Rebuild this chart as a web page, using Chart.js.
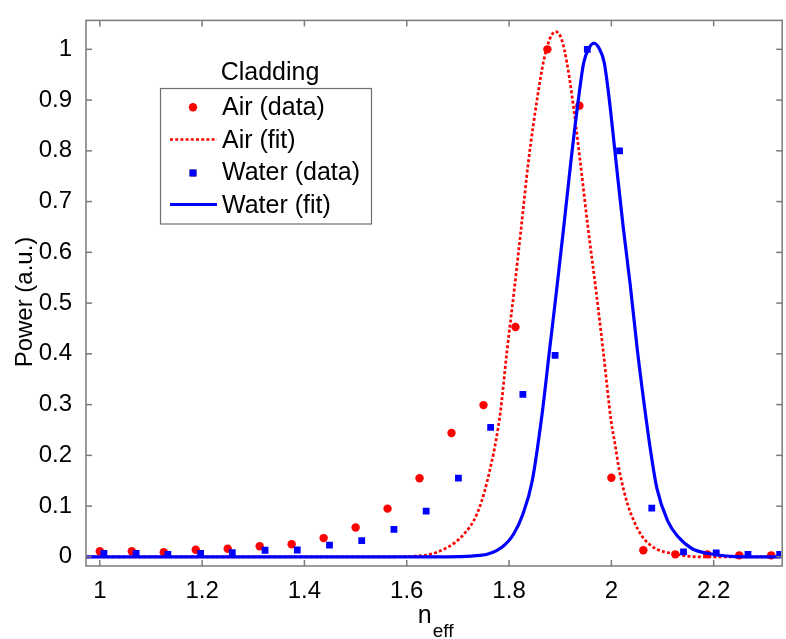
<!DOCTYPE html>
<html><head><meta charset="utf-8">
<script src="https://cdn.jsdelivr.net/npm/chart.js@4.4.1/dist/chart.umd.min.js"></script>
<style>html,body{margin:0;padding:0;background:#fff;overflow:hidden}#wrap{width:786px;height:639px}</style>
</head><body><div id="wrap"><canvas id="c" width="786" height="639"></canvas></div>
<script>
// ---- data ----
const airDataX = [1, 1.0625, 1.125, 1.1875, 1.25, 1.3125, 1.375, 1.4375, 1.5, 1.5625, 1.625, 1.6875, 1.75, 1.8125, 1.875, 1.9375, 2, 2.0625, 2.125, 2.1875, 2.25, 2.3125];
const airDataY = [0.011, 0.011, 0.009, 0.014, 0.016, 0.021, 0.025, 0.037, 0.058, 0.095, 0.155, 0.244, 0.299, 0.453, 1.0, 0.889, 0.156, 0.013, 0.005, 0.005, 0.003, 0.003];
const waterDataX = [1.008, 1.071, 1.133, 1.197, 1.259, 1.323, 1.386, 1.449, 1.512, 1.575, 1.638, 1.701, 1.764, 1.827, 1.890, 1.953, 2.016, 2.079, 2.141, 2.205, 2.267, 2.329];
const waterDataY = [0.007, 0.007, 0.005, 0.007, 0.0085, 0.013, 0.0135, 0.023, 0.032, 0.054, 0.090, 0.155, 0.255, 0.320, 0.397, 1.0, 0.80, 0.096, 0.010, 0.008, 0.005, 0.005];
const airFitX = [0.973, 1.55, 1.634, 1.680, 1.712, 1.737, 1.757, 1.782, 1.796, 1.810, 1.824, 1.838, 1.856, 1.867, 1.879, 1.891, 1.903, 1.913, 1.923, 1.939, 1.954, 1.970, 1.984, 2.000, 2.0065, 2.016, 2.032, 2.044, 2.061, 2.087, 2.12, 2.17, 2.332];
const airFitY = [0, 0, 0.003, 0.019, 0.045, 0.084, 0.148, 0.277, 0.406, 0.525, 0.651, 0.780, 0.909, 0.974, 1.019, 1.035, 1.019, 0.974, 0.909, 0.780, 0.651, 0.525, 0.406, 0.264, 0.226, 0.168, 0.103, 0.071, 0.039, 0.016, 0.0066, 0, 0];
const waterFitX = [0.973, 1.65, 1.744, 1.786, 1.809, 1.827, 1.845, 1.864, 1.879, 1.894, 1.907, 1.921, 1.9365, 1.946, 1.956, 1.966, 1.976, 1.986, 1.995, 2.009, 2.023, 2.037, 2.051, 2.069, 2.078, 2.089, 2.110, 2.131, 2.158, 2.19, 2.26, 2.332];
const waterFitY = [0, 0, 0.003, 0.019, 0.045, 0.084, 0.148, 0.277, 0.406, 0.535, 0.651, 0.780, 0.909, 0.974, 1.002, 1.012, 1.002, 0.974, 0.909, 0.780, 0.651, 0.535, 0.406, 0.264, 0.200, 0.135, 0.071, 0.039, 0.016, 0.0066, 0, 0];
const xTickValues = [1, 1.2, 1.4, 1.6, 1.8, 2, 2.2];
const xTickLabels = ['1', '1.2', '1.4', '1.6', '1.8', '2', '2.2'];
const yTickValues = [0, 0.1, 0.2, 0.3, 0.4, 0.5, 0.6, 0.7, 0.8, 0.9, 1];
const yTickLabels = ['0', '0.1', '0.2', '0.3', '0.4', '0.5', '0.6', '0.7', '0.8', '0.9', '1'];
const seriesNames = ['Air (data)', 'Air (fit)', 'Water (data)', 'Water (fit)'];
const legendTitle = 'Cladding';
const yTitle = 'Power (a.u.)';
const xTitleMain = 'n';
const xTitleSub = 'eff';

const FONT = '"Liberation Sans", Arial, Helvetica, sans-serif';
const RED = '#ff0000', BLUE = '#0000ff', AXIS = '#7a7a7a', TEXT = '#000000';
const pts = (xs, ys) => xs.map((v, i) => ({x: v, y: ys[i]}));

const frame = {
  id: 'frame',
  afterDraw(chart) {
    const {ctx, chartArea: a, scales: {x, y}} = chart;
    const L = a.left, R = a.right + 1, T = a.top, B = a.bottom;
    ctx.save();
    ctx.strokeStyle = AXIS; ctx.lineWidth = 1.5;
    ctx.strokeRect(L, T, R - L, B - T);
    const seg = (x1, y1, x2, y2) => { ctx.beginPath(); ctx.moveTo(x1, y1); ctx.lineTo(x2, y2); ctx.stroke(); };
    xTickValues.forEach(v => { const p = x.getPixelForValue(v); seg(p, B, p, B - 6); seg(p, T, p, T + 6); });
    yTickValues.forEach(v => { const p = y.getPixelForValue(v); seg(L, p, L + 6, p); seg(R, p, R - 6, p); });
    ctx.fillStyle = TEXT;
    // y-axis title
    ctx.save();
    ctx.translate(25, 302); ctx.rotate(-Math.PI / 2);
    ctx.font = '24px ' + FONT; ctx.textAlign = 'center'; ctx.textBaseline = 'middle';
    ctx.fillText(yTitle, 0, 0);
    ctx.restore();
    // x-axis title with subscript
    ctx.textBaseline = 'alphabetic';
    ctx.font = '25px ' + FONT;
    const wn = ctx.measureText(xTitleMain).width;
    ctx.font = '19px ' + FONT;
    const ws = ctx.measureText(xTitleSub).width;
    const cx = (L + R) / 2 + 1;
    const x0 = cx - (wn + ws) / 2;
    ctx.font = '25px ' + FONT; ctx.textAlign = 'left';
    ctx.fillText(xTitleMain, x0, 623);
    ctx.font = '19px ' + FONT;
    ctx.fillText(xTitleSub, x0 + wn + 1, 637);
    // legend
    ctx.fillStyle = TEXT; ctx.font = '25px ' + FONT; ctx.textAlign = 'center';
    ctx.fillText(legendTitle, 270, 80);
    ctx.fillStyle = '#ffffff';
    ctx.fillRect(160.5, 88.5, 211, 135.5);
    ctx.strokeStyle = '#6e6e6e'; ctx.lineWidth = 1.2;
    ctx.strokeRect(160.5, 88.5, 211, 135.5);
    const rowY = [107.3, 139.5, 173, 204.5];
    const baseY = [115, 147.5, 180, 212.5];
    chart.data.datasets.forEach((ds, i) => {
      const yy = rowY[i];
      if (ds.showLine) {
        ctx.save();
        ctx.strokeStyle = ds.borderColor; ctx.lineWidth = ds.borderWidth;
        ctx.setLineDash(ds.borderDash || []);
        seg(170, yy, 217, yy);
        ctx.restore();
      } else {
        Chart.helpers.drawPoint(ctx, {pointStyle: ds.pointStyle, radius: ds.pointRadius, borderWidth: 0, rotation: 0}, 193, yy);
        ctx.fillStyle = ds.backgroundColor; ctx.fill();
      }
      ctx.fillStyle = TEXT; ctx.textAlign = 'left'; ctx.font = '25px ' + FONT;
      ctx.fillText(ds.label, 222, baseY[i]);
    });
    ctx.restore();
  }
};

new Chart(document.getElementById('c'), {
  type: 'scatter',
  data: {
    datasets: [
      {label: seriesNames[0], data: pts(airDataX, airDataY), pointStyle: 'circle', pointRadius: 4.2, pointHoverRadius: 4.2,
       backgroundColor: RED, borderColor: RED, pointBorderWidth: 0, order: 4},
      {label: seriesNames[1], data: pts(airFitX, airFitY), showLine: true, pointRadius: 0, pointHoverRadius: 0,
       borderColor: RED, backgroundColor: RED, borderWidth: 2.7, borderDash: [3, 2.2], cubicInterpolationMode: 'monotone', tension: 0.4, order: 3},
      {label: seriesNames[2], data: pts(waterDataX, waterDataY), pointStyle: 'rect', pointRadius: 4.8, pointHoverRadius: 4.8,
       backgroundColor: BLUE, borderColor: BLUE, pointBorderWidth: 0, order: 2},
      {label: seriesNames[3], data: pts(waterFitX, waterFitY), showLine: true, pointRadius: 0, pointHoverRadius: 0,
       borderColor: BLUE, backgroundColor: BLUE, borderWidth: 3.2, cubicInterpolationMode: 'monotone', tension: 0.4, order: 1}
    ]
  },
  options: {
    responsive: false, animation: false, devicePixelRatio: 1,
    layout: {padding: {top: 10, right: 0, left: 0, bottom: 0}},
    plugins: {legend: {display: false}, tooltip: {enabled: false}},
    events: [],
    scales: {
      x: {
        type: 'linear', min: 0.973, max: 2.332,
        afterBuildTicks: s => { s.ticks = xTickValues.map(v => ({value: v})); },
        afterFit: s => { s.height = 73; },
        grid: {display: false}, border: {display: false},
        ticks: {color: TEXT, font: {family: FONT, size: 24}, padding: 3, maxRotation: 0, autoSkip: false,
                callback: (v, i) => xTickLabels[i]}
      },
      y: {
        type: 'linear', min: -0.018, max: 1.057,
        afterBuildTicks: s => { s.ticks = yTickValues.map(v => ({value: v})); },
        afterFit: s => { s.width = 86; },
        grid: {display: false}, border: {display: false},
        ticks: {color: TEXT, font: {family: FONT, size: 24}, padding: 6, autoSkip: false,
                callback: (v, i) => yTickLabels[i]}
      }
    }
  },
  plugins: [frame]
});
</script></body></html>
